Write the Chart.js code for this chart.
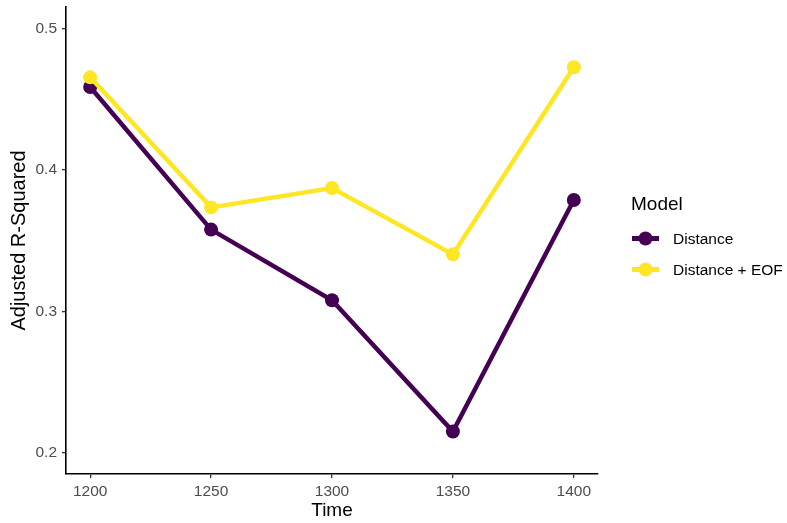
<!DOCTYPE html>
<html>
<head>
<meta charset="utf-8">
<script src="https://cdn.jsdelivr.net/npm/chart.js@4"></script>
<style>
html,body{margin:0;padding:0;background:#fff;}
#wrap{width:787px;height:523px;}
</style>
</head>
<body>
<div id="wrap"><canvas id="c" width="787" height="523"></canvas></div>
<script>
const times = [1200, 1250, 1300, 1350, 1400];
const distance = [0.4585, 0.3577, 0.3078, 0.2150, 0.3786];
const distanceEOF = [0.4653, 0.3734, 0.3871, 0.3402, 0.4724];
const seriesNames = ["Distance", "Distance + EOF"];
const legendTitle = "Model";
const xTicks = [1200, 1250, 1300, 1350, 1400];
const yTicks = [0.2, 0.3, 0.4, 0.5];
const xTitle = "Time";
const yTitle = "Adjusted R-Squared";

const PURPLE = "#440154";
const YELLOW = "#FDE725";
const FONT = "'Liberation Sans', Arial, sans-serif";

const legendPlugin = {
  id: 'ggLegend',
  afterDraw(chart) {
    const ctx = chart.ctx;
    ctx.save();
    ctx.fillStyle = '#000';
    ctx.font = '19px ' + FONT;
    ctx.textAlign = 'left';
    ctx.textBaseline = 'alphabetic';
    ctx.fillText(legendTitle, 631, 210);
    const ys = [238.5, 269.5];
    chart.data.datasets.slice().sort((a,b)=>a.legendIndex-b.legendIndex).forEach((ds, i) => {
      const y = ys[i];
      ctx.strokeStyle = ds.borderColor;
      ctx.lineWidth = 5;
      ctx.lineCap = 'butt';
      ctx.beginPath();
      ctx.moveTo(632, y);
      ctx.lineTo(659, y);
      ctx.stroke();
      ctx.fillStyle = ds.pointBackgroundColor;
      ctx.beginPath();
      ctx.arc(645.5, y, 7, 0, Math.PI * 2);
      ctx.fill();
      ctx.fillStyle = '#000';
      ctx.font = '15.5px ' + FONT;
      ctx.fillText(ds.label, 673, y + 5.5);
    });
    ctx.restore();
  }
};

new Chart(document.getElementById('c'), {
  type: 'line',
  data: {
    datasets: [
      {
        label: seriesNames[0],
        legendIndex: 0,
        order: 2,
        data: times.map((t, i) => ({x: t, y: distance[i]})),
        borderColor: PURPLE,
        backgroundColor: PURPLE,
        pointBackgroundColor: PURPLE,
        pointBorderWidth: 0,
        pointRadius: 7,
        borderWidth: 4.5,
        tension: 0,
        fill: false
      },
      {
        label: seriesNames[1],
        legendIndex: 1,
        order: 1,
        data: times.map((t, i) => ({x: t, y: distanceEOF[i]})),
        borderColor: YELLOW,
        backgroundColor: YELLOW,
        pointBackgroundColor: YELLOW,
        pointBorderWidth: 0,
        pointRadius: 7,
        borderWidth: 4.5,
        tension: 0,
        fill: false
      }
    ]
  },
  options: {
    responsive: false,
    animation: false,
    devicePixelRatio: 1,
    layout: {padding: {left: 0, right: 189, top: 5, bottom: 0}},
    plugins: {legend: {display: false}, tooltip: {enabled: false}},
    scales: {
      x: {
        type: 'linear',
        min: 1190,
        max: 1410,
        afterBuildTicks: (s) => { s.ticks = xTicks.map(v => ({value: v})); },
        afterFit: (s) => { s.height = 49; s.paddingLeft = 0; s.paddingRight = 0; },
        border: {display: true, color: '#000', width: 1.6},
        grid: {display: true, drawOnChartArea: false, drawTicks: true, tickLength: 4, color: '#333333', lineWidth: 1.3},
        ticks: {color: '#4D4D4D', font: {family: FONT, size: 15.5}, padding: 4, maxRotation: 0, autoSkip: false, callback: (v) => String(v)},
        title: {display: true, text: xTitle, color: '#000', font: {family: FONT, size: 19}, padding: {top: 0, bottom: 1}}
      },
      y: {
        type: 'linear',
        min: 0.185,
        max: 0.515,
        afterBuildTicks: (s) => { s.ticks = yTicks.map(v => ({value: v})); },
        afterFit: (s) => { s.width = 66; s.paddingTop = 0; s.paddingBottom = 0; },
        border: {display: true, color: '#000', width: 1.6},
        grid: {display: true, drawOnChartArea: false, drawTicks: true, tickLength: 4, color: '#333333', lineWidth: 1.3},
        ticks: {color: '#4D4D4D', font: {family: FONT, size: 15.5}, padding: 5, autoSkip: false, callback: (v) => String(v)},
        title: {display: true, text: yTitle, color: '#000', font: {family: FONT, size: 20}, padding: {top: 7, bottom: 0}}
      }
    }
  },
  plugins: [legendPlugin]
});
</script>
</body>
</html>
